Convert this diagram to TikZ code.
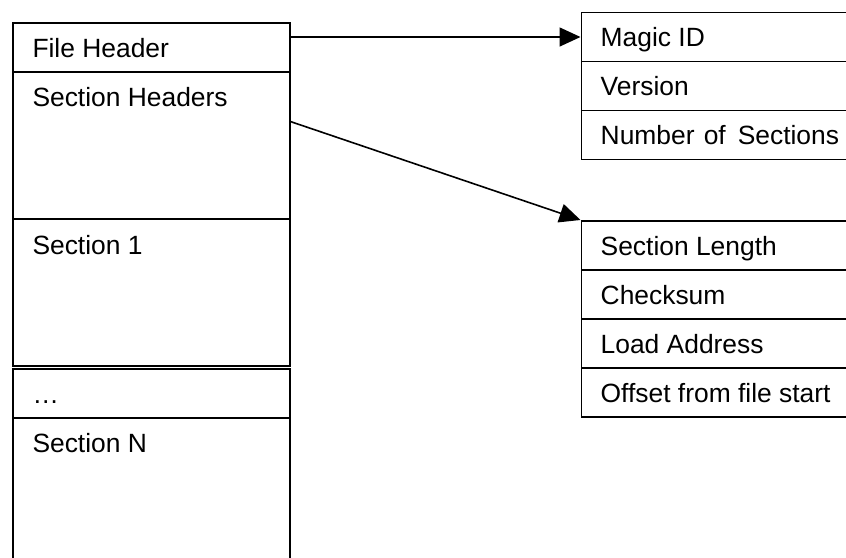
\documentclass[tikz,border=0pt]{standalone}
\usepackage{fontspec}
\setmainfont{Liberation Sans}
\usetikzlibrary{arrows.meta,calc}

\begin{document}
\begin{tikzpicture}[x=1pt,y=-1pt,
  cell/.style={draw=black, line width=1.6pt, rectangle, inner sep=0pt,
               anchor=north west},
  lcell/.style={cell, minimum width=277pt},
  rcell/.style={cell, minimum width=300pt, minimum height=49pt},
  lbl/.style={anchor=base west, inner sep=0pt,
              font=\fontsize{26.4}{30}\selectfont},
  link/.style={draw=black, line width=1.6pt,
               -{Triangle[length=21pt,width=19pt]}}
]
\useasboundingbox (0,0) rectangle (846,557);
\begin{scope}
\clip (0,0) rectangle (846,557);

% file layout column
\node[lcell, minimum height=49pt]  (fh)   at (12.3,22)  {};
\node[lcell, minimum height=147pt] (sh)   at (12.3,71)  {};
\node[lcell, minimum height=147pt] (s1)   at (12.3,218) {};
\node[lcell, minimum height=49pt]  (dots) at (12.3,368) {};
\node[lcell, minimum height=200pt] (sn)   at (12.3,417) {};

\node[lbl] (fh-t)   at ([shift={(20,35)}]fh.north west)   {File Header};
\node[lbl] (sh-t)   at ([shift={(20,35)}]sh.north west)   {Section Headers};
\node[lbl] (s1-t)   at ([shift={(20,36)}]s1.north west)   {Section 1};
\node[lbl] (dots-t) at ([shift={(20,35)}]dots.north west) {…};
\node[lbl] (sn-t)   at ([shift={(20,35)}]sn.north west)   {Section N};

% file header fields
\node[rcell] (magic)   at (580.5,11.7)  {};
\node[rcell] (version) at (580.5,60.7)  {};
\node[rcell] (nsec)    at (580.5,109.7) {};

\node[lbl] (magic-t)   at ([shift={(20,35)}]magic.north west)   {Magic ID};
\node[lbl] (version-t) at ([shift={(20,35)}]version.north west) {Version};
\node[lbl] (nsec-t)    at ([shift={(20,35)}]nsec.north west)
  {Number\hspace{9.2pt}of\hspace{12pt}Sections};

% section header fields
\node[rcell] (slen)  at (580.5,220)   {};
\node[rcell] (csum)  at (580.5,269)   {};
\node[rcell] (laddr) at (580.5,318)   {};
\node[rcell] (offs)  at (580.5,367.3) {};

\node[lbl] (slen-t)  at ([shift={(20,35)}]slen.north west)  {Section Length};
\node[lbl] (csum-t)  at ([shift={(20,35)}]csum.north west)  {Checksum};
\node[lbl] (laddr-t) at ([shift={(20,35)}]laddr.north west) {Load Address};
\node[lbl] (offs-t)  at ([shift={(20,35)}]offs.north west)  {Offset from file start};

% connectors
\coordinate (shport) at ([yshift=-50.7pt]sh.north east);
\draw[link] (fh.east |- magic.west) -- (magic.west);
\draw[link] (shport) -- (slen.north west);
\end{scope}
\end{tikzpicture}
\end{document}
